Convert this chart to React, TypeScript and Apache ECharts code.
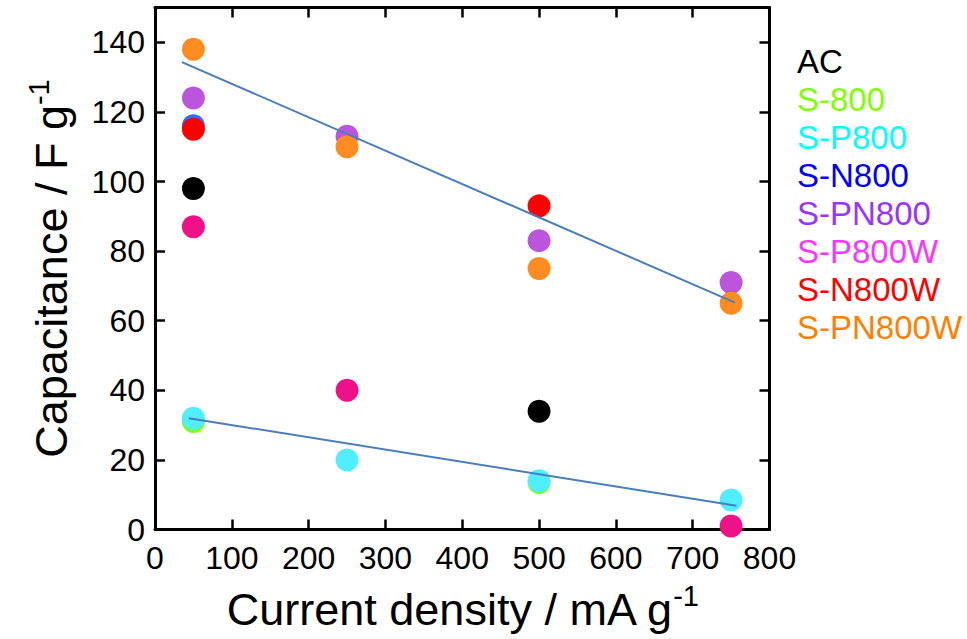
import React, { useEffect, useRef } from "react";
import * as echarts from "echarts";

const currentDensity = [50, 250, 500, 750];
const seriesNames = ["AC", "S-800", "S-P800", "S-N800", "S-PN800", "S-P800W", "S-N800W", "S-PN800W"];
const acValues = [98, null, 34, null];
const s800Values = [31, null, 13.5, null];
const sP800Values = [32, 20, 14, 8.5];
const sN800Values = [116, null, null, null];
const sPN800Values = [124, 113, 83, 71];
const sP800WValues = [87, 40, null, 1];
const sN800WValues = [115, null, 93, null];
const sPN800WValues = [138, 110, 75, 65];
const upperFitX = [35, 755];
const upperFitY = [134.3, 65.2];
const lowerFitX = [44, 757];
const lowerFitY = [32, 6.8];

const allValues = [acValues, s800Values, sP800Values, sN800Values, sPN800Values, sP800WValues, sN800WValues, sPN800WValues];
const markerColors = ["#000000", "#7dff22", "#50eeff", "#2a6fff", "#bb55dd", "#ee1188", "#ff0000", "#ff8c20"];
const legendColors = ["#000000", "#80ff00", "#00ffff", "#0000ff", "#9933ff", "#ff33ff", "#ff0000", "#ff8000"];

const FONT = "'Liberation Sans', Arial, sans-serif";

export default function App() {
  const ref = useRef<HTMLDivElement>(null);
  useEffect(() => {
    if (!ref.current) return;
    const chart = echarts.init(ref.current, undefined, { renderer: "svg" });
    const scatterSeries = seriesNames.map((name, si) => ({
      name,
      type: "scatter",
      symbol: "circle",
      symbolSize: 23,
      itemStyle: { color: markerColors[si], opacity: 1 },
      data: currentDensity
        .map((x, i) => (allValues[si][i] == null ? null : [x, allValues[si][i]]))
        .filter((d) => d !== null),
      z: 2,
    }));
    const fitLine = (xs: number[], ys: number[]) => ({
      type: "line",
      data: xs.map((x, i) => [x, ys[i]]),
      symbol: "none",
      lineStyle: { color: "#4a7ebb", width: 2 },
      z: 5,
      silent: true,
    });
    const titleRich = {
      a: { fontSize: 45, color: "#000", fontFamily: FONT },
      sup: { fontSize: 29, color: "#000", fontFamily: FONT, padding: [0, 0, 26, 0] },
    };
    chart.setOption({
      animation: false,
      textStyle: { fontFamily: FONT },
      grid: { left: 155, top: 7.5, right: 197.5, bottom: 109.5, containLabel: false },
      legend: {
        orient: "vertical",
        left: 787,
        top: 40,
        itemWidth: 0,
        itemHeight: 0,
        itemGap: 5,
        icon: "rect",
        textStyle: { fontSize: 33, lineHeight: 33, fontFamily: FONT },
        data: seriesNames.map((n, i) => ({ name: n, textStyle: { color: legendColors[i] } })),
        selectedMode: false,
      },
      xAxis: [
        {
          type: "value",
          min: 0,
          max: 800,
          interval: 100,
          position: "bottom",
          axisLine: { show: true, onZero: false, lineStyle: { color: "#000", width: 3 } },
          axisTick: { show: true, inside: true, length: 10, lineStyle: { color: "#000", width: 2.5 } },
          axisLabel: { color: "#000", fontSize: 32, margin: 12, fontFamily: FONT },
          splitLine: { show: false },
          name: "{a|Current density / mA g}{sup|-1}",
          nameLocation: "middle",
          nameGap: 52,
          nameTextStyle: { rich: titleRich },
        },
        {
          type: "value",
          min: 0,
          max: 800,
          interval: 100,
          position: "top",
          axisLine: { show: true, onZero: false, lineStyle: { color: "#000", width: 3 } },
          axisTick: { show: true, inside: true, length: 10, lineStyle: { color: "#000", width: 2.5 } },
          axisLabel: { show: false },
          splitLine: { show: false },
        },
      ],
      yAxis: [
        {
          type: "value",
          min: 0,
          max: 150,
          interval: 20,
          position: "left",
          axisLine: { show: true, onZero: false, lineStyle: { color: "#000", width: 3 } },
          axisTick: { show: true, inside: true, length: 10, lineStyle: { color: "#000", width: 2.5 } },
          axisLabel: { color: "#000", fontSize: 32, margin: 10, showMaxLabel: false, fontFamily: FONT },
          splitLine: { show: false },
          name: "{a|Capacitance / F g}{sup|-1}",
          nameLocation: "middle",
          nameGap: 76,
          nameTextStyle: { rich: titleRich },
        },
        {
          type: "value",
          min: 0,
          max: 150,
          interval: 20,
          position: "right",
          axisLine: { show: true, onZero: false, lineStyle: { color: "#000", width: 3 } },
          axisTick: { show: true, inside: true, length: 10, lineStyle: { color: "#000", width: 2.5 } },
          axisLabel: { show: false },
          splitLine: { show: false },
        },
      ],
      series: [...scatterSeries, fitLine(upperFitX, upperFitY), fitLine(lowerFitX, lowerFitY)],
    });
    return () => chart.dispose();
  }, []);
  return <div ref={ref} style={{ width: 967, height: 639, position: "absolute", left: 0, top: 0 }} />;
}
